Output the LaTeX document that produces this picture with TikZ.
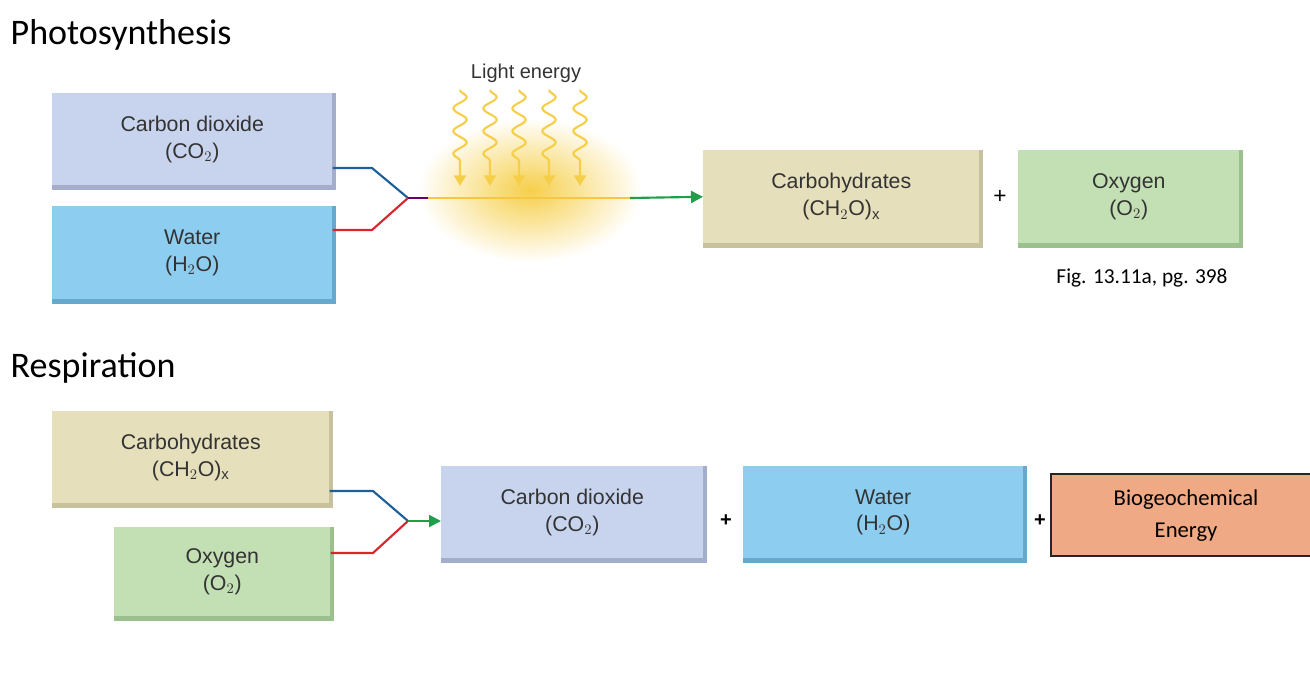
\documentclass[tikz,border=0pt]{standalone}
\usepackage{fontspec}
\setmainfont{Liberation Sans}
\newfontfamily\carlitofont{Carlito}
\usetikzlibrary{decorations.pathmorphing,arrows.meta}
\definecolor{co}{HTML}{C8D4EE}\definecolor{cod}{HTML}{A4AECB}
\definecolor{wa}{HTML}{8DCDF0}\definecolor{wad}{HTML}{67A8CE}
\definecolor{ca}{HTML}{E5DFBB}\definecolor{cad}{HTML}{C8C19D}
\definecolor{ox}{HTML}{C3DFB4}\definecolor{oxd}{HTML}{9CBF8E}
\definecolor{bio}{HTML}{F0A985}
\definecolor{ln}{HTML}{1F5F9A}\definecolor{rd}{HTML}{D8262F}\definecolor{gr}{HTML}{1EA04A}
\definecolor{yl}{HTML}{F6CF4A}\definecolor{tx}{HTML}{333333}
\newcommand{\mybox}[7]{% name, x1,y1,x2,y2, fill, dark
  \fill[#7] (#2,#3) rectangle (#4+4,#5+5);
  \node[fill=#6,inner sep=0,minimum width={(#4-#2)*0.75pt},minimum height={(#5-#3)*0.75pt},anchor=north west] (#1) at (#2,#3) {};}
\tikzset{lbl/.style={text=tx,font=\fontsize{16}{20}\selectfont,align=center},
  title/.style={font=\carlitofont\fontsize{27}{30}\selectfont,anchor=west},
  ray/.style={yl,line width=1.6pt,decorate,decoration={snake,amplitude=5pt,segment length=17pt,post length=12pt},-{Triangle[length=8pt,width=9pt]}}}
\begin{document}
\begin{tikzpicture}[x=0.75pt,y=-0.75pt]
\useasboundingbox (0,0) rectangle (1310,687);
\node[title] (t1) at (6,35) {Photosynthesis};
\node[title] (t2) at (6,368) {Respiration};
% glow
\shade[inner color=yl,outer color=white] (530,190) ellipse (112 and 72);
\node[text=tx,font=\fontsize{15}{18}\selectfont] (le) at (526,73) {Light energy};
\foreach \x[count=\i] in {460,490,519,549,580}{
  \coordinate (r\i a) at (\x,90); \coordinate (r\i b) at (\x,186);
  \draw[ray] (r\i a) -- (r\i b);}
% top boxes
\mybox{co2}{52}{93}{332}{185}{co}{cod}
\node[lbl] at (co2) {Carbon dioxide\\(CO$_2$)};
\mybox{h2o}{52}{206}{332}{299}{wa}{wad}
\node[lbl] at (h2o) {Water\\(H$_2$O)};
\mybox{cho}{703}{150}{979}{243}{ca}{cad}
\node[lbl] at (cho) {Carbohydrates\\(CH$_2$O)$_\mathrm{x}$};
\mybox{oxy}{1018}{150}{1239}{243}{ox}{oxd}
\node[lbl] at (oxy) {Oxygen\\(O$_2$)};
\node[font=\fontsize{17}{18}\selectfont] (p1) at (1000,197) {+};
\node[font=\carlitofont\fontsize{16}{18}\selectfont] (fig) at (1142,278) {Fig. 13.11a, pg. 398};
% top connectors
\coordinate (j1) at (408,198);
\coordinate (a1) at (372,168); \coordinate (b1) at (372,230);
\draw[ln,line width=1.6pt] (co2.east|-a1) -- (a1) -- (j1);
\draw[rd,line width=1.6pt] (h2o.east|-b1) -- (b1) -- (j1);
\coordinate (m1) at (428,198); \coordinate (m2) at (630,198);
\draw[violet!80!black,line width=1.6pt] (j1) -- (m1);
\draw[yl!90!orange,line width=1.6pt] (m1) -- (m2);
\draw[gr,line width=1.6pt,-{Triangle[length=9pt,width=9pt]}] (m2) -- (cho.west);
% bottom boxes
\mybox{cho2}{52}{411}{329}{503}{ca}{cad}
\node[lbl] at (cho2) {Carbohydrates\\(CH$_2$O)$_\mathrm{x}$};
\mybox{oxy2}{114}{527}{330}{616}{ox}{oxd}
\node[lbl] at (oxy2) {Oxygen\\(O$_2$)};
\mybox{co22}{441}{466}{703}{558}{co}{cod}
\node[lbl] at (co22) {Carbon dioxide\\(CO$_2$)};
\mybox{h2o2}{743}{466}{1023}{558}{wa}{wad}
\node[lbl] at (h2o2) {Water\\(H$_2$O)};
\node[draw=black!85,line width=1.6pt,fill=bio,minimum width=270*0.75pt,minimum height=82*0.75pt,anchor=north west,font=\carlitofont\fontsize{17}{24}\selectfont,align=center,text width=190*0.75pt] (bio) at (1050,473) {Biogeochemical\\Energy};
\node[font=\bfseries\fontsize{15}{18}\selectfont] (p2) at (726,521) {+};
\node[font=\bfseries\fontsize{15}{18}\selectfont] (p3) at (1040,521) {+};
% bottom connectors
\coordinate (j2) at (408,521);
\coordinate (a2) at (373,491); \coordinate (b2) at (373,553);
\draw[ln,line width=1.6pt] (cho2.east|-a2) -- (a2) -- (j2);
\draw[rd,line width=1.6pt] (oxy2.east|-b2) -- (b2) -- (j2);
\draw[gr,line width=1.6pt,-{Triangle[length=9pt,width=9pt]}] (j2) -- (co22.west|-j2);
\end{tikzpicture}
\end{document}
